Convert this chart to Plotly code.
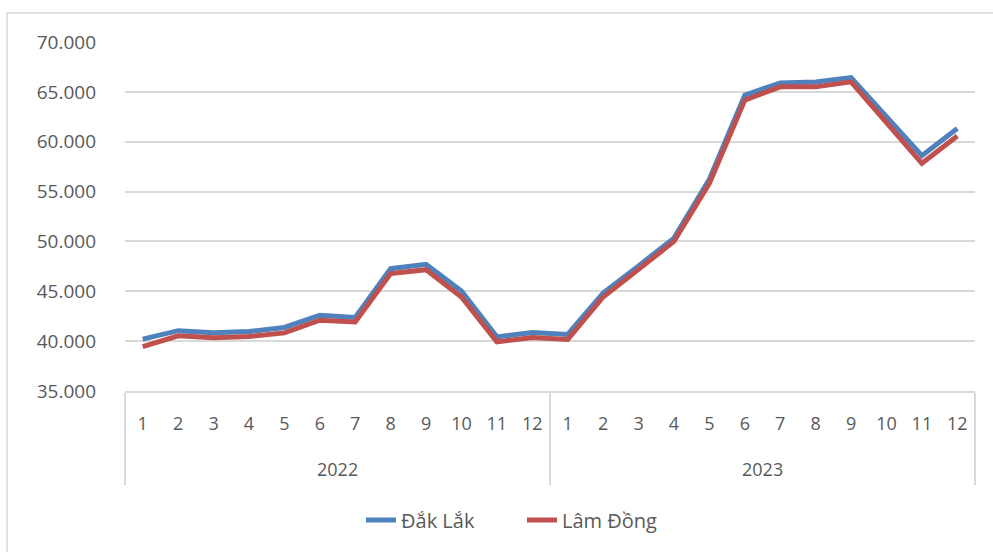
import plotly.graph_objects as go

years = ["2022", "2023"]
months = [str(m) for m in range(1, 13)] * 2

dak_lak = [40200, 41050, 40850, 40970, 41370, 42600, 42370, 47270, 47700, 45030, 40430, 40870,
           40670, 44830, 47550, 50330, 56230, 64670, 65900, 66000, 66430, 62450, 58600, 61330]
lam_dong = [39450, 40530, 40330, 40470, 40830, 42100, 41930, 46770, 47170, 44430, 39930, 40370,
            40170, 44430, 47200, 50000, 55830, 64170, 65500, 65500, 66000, 61900, 57830, 60570]

series_names = ["Đắk Lắk", "Lâm Đồng"]
colors = ["#4F81BD", "#C0504D"]

idx = list(range(len(months)))

fig = go.Figure()
for name, vals, col in zip(series_names, [dak_lak, lam_dong], colors):
    fig.add_trace(go.Scatter(
        x=idx, y=vals, mode="lines", name=name,
        line=dict(color=col, width=5),
    ))

L, R, T, B = 125, 18, 42, 161
W, H = 993, 552
pw, ph = W - L - R, H - T - B
n = len(months)

annotations = []
for i, yr in enumerate(years):
    annotations.append(dict(
        x=i * 12 + 5.5, xref="x", y=(H - B - 469) / ph, yref="paper",
        text=yr, showarrow=False, yanchor="middle", xanchor="center",
        font=dict(size=18, color="#595959")))

fig.update_layout(
    width=W, height=H,
    margin=dict(l=L, r=R, t=T, b=B),
    paper_bgcolor="white", plot_bgcolor="white",
    separators=",.",
    font=dict(family="Open Sans", color="#595959", size=18),
    showlegend=True,
    legend=dict(orientation="h", x=(522 - L) / pw, xanchor="center",
                y=(H - B - 520) / ph, yanchor="middle", entrywidth=116,
                font=dict(size=20, color="#595959"), traceorder="normal"),
    xaxis=dict(
        range=[-0.5, n - 0.5], tickvals=idx, ticktext=months,
        showgrid=False, zeroline=False,
        showline=True, linecolor="#D9D9D9", linewidth=1.5,
        tickfont=dict(size=18, color="#595959"), ticks="", ticklabelstandoff=16,
        minor=dict(tickmode="linear", tick0=-0.5, dtick=12, ticks="outside",
                   ticklen=92, tickwidth=1.5, tickcolor="#D9D9D9", showgrid=False),
    ),
    yaxis=dict(
        range=[35000, 70000], dtick=5000, tickformat=",.0f",
        showgrid=True, gridcolor="#D9D9D9", gridwidth=1.5,
        showline=False, zeroline=False,
        tickfont=dict(size=19, color="#595959"), ticks="", ticklabelstandoff=28,
    ),
    annotations=annotations,
    shapes=[dict(type="rect", xref="paper", yref="paper",
                 x0=(7 - L) / pw, x1=1.1, y0=(H - B - 13) / ph, y1=-0.7,
                 line=dict(color="#D9D9D9", width=1.5), layer="below")],
)

fig.write_html("out.html")
